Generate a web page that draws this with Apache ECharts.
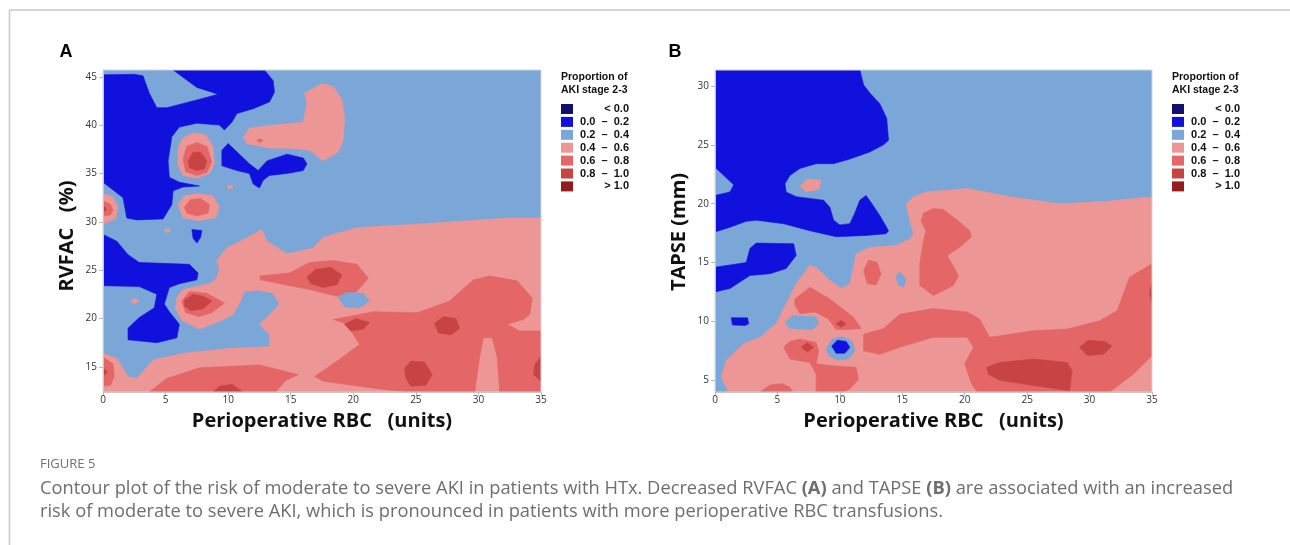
<!DOCTYPE html>
<html>
<head>
<meta charset="utf-8">
<script src="https://cdn.jsdelivr.net/npm/echarts@6/dist/echarts.min.js"></script>
<style>
html, body { margin: 0; padding: 0; background: #fff; }
#main { width: 1290px; height: 545px; }
</style>
</head>
<body>
<div id="main"></div>
<script>
// contour bands: 1 = 0.0-0.2, 2 = 0.2-0.4, 3 = 0.4-0.6, 4 = 0.6-0.8, 5 = 0.8-1.0
// each band region is a closed outline in data units: [Perioperative RBC (units), RVFAC % / TAPSE mm]
var legendLabels = ['< 0.0', '0.0  \u2013  0.2', '0.2  \u2013  0.4', '0.4  \u2013  0.6',
  '0.6  \u2013  0.8', '0.8  \u2013  1.0', '> 1.0'];
var bandColors = ['#10106e', '#1111dd', '#7ba6d8', '#ec9696', '#e46666', '#c84444', '#951c1c'];

var rbcRange = [0, 35];
var rvfacRange = [12.4, 45.7];
var tapseRange = [4.0, 31.36];

// ---- panel A: RVFAC ----
var aBase = [[0, 12.4], [35, 12.4], [35, 45.7], [0, 45.7]];
var aPinkMain = [[35, 30.4], [32.3, 30.4], [25.6, 29.8], [20.3, 29.4], [17.6, 28.4], [16.8, 27.3], [14.7, 26.7],
  [13.1, 28], [12.7, 29.2], [12, 28.7], [9.9, 27.3], [9.1, 26], [9.3, 25], [9.0, 24], [8.5, 23.6], [7.7, 23.4],
  [6.4, 23], [5.9, 22.2], [5.8, 21], [6.3, 19.8], [7.7, 18.9], [9.3, 19.7], [10.4, 20.4], [11.0, 21.8],
  [11.3, 22.8], [12.5, 22.9], [13.6, 22.6], [14.1, 21.5], [13.3, 20.4], [12.5, 19.4], [13.3, 18.3], [13.3, 17.1],
  [9.9, 16.9], [6.4, 16.4], [4, 15.7], [2.7, 13.8], [2, 14], [1.1, 15.9], [0, 16.4], [0, 12.4], [35, 12.4]];
var aPinkEdge = [[0, 32.9], [0.8, 32.6], [1.2, 31.5], [1.0, 30.3], [0, 29.8]];
var aPinkSpot1 = [[6, 37.5], [6.3, 38.6], [7.2, 39.2], [8.2, 39], [8.8, 37.8], [8.9, 36], [8.5, 35], [7.5, 34.5],
  [6.4, 34.8], [6, 35.8]];
var aPinkSpot2 = [[6, 31.8], [6.5, 32.7], [7.6, 32.9], [8.8, 32.7], [9.3, 31.5], [9, 30.4], [7.6, 30.1], [6.4, 30.4]];
var aPinkUpper = [[11.2, 38.7], [11.7, 39.7], [13.6, 40], [16, 40.3], [16.3, 42.3], [16.1, 43.3], [17.5, 44.3],
  [18.4, 44], [19.1, 42.6], [19.3, 40.8], [19.2, 38.4], [18.8, 37.2], [17.6, 36.3], [16.5, 37.4], [14.9, 37.6],
  [13.3, 37.6], [11.5, 38.1]];
var aPinkDot1 = [[9.9, 33.7], [10.3, 33.8], [10.4, 33.5], [10.0, 33.4]];
var aPinkDot2 = [[4.9, 29.2], [5.3, 29.3], [5.4, 29.0], [5.0, 28.9]];
var aPinkDot3 = [[2.2, 21.8], [2.5, 22.1], [2.9, 21.8], [2.5, 21.5]];
var aMidEdgeTop = [[0, 32.2], [0.6, 31.8], [0.8, 31.2], [0.6, 30.7], [0, 30.6]];
var aMidSpot1 = [[6.4, 36.5], [6.7, 37.8], [7.5, 38.2], [8.3, 37.8], [8.7, 36.2], [8.3, 35.1], [7.5, 34.8], [6.6, 35.2]];
var aMidSpot2 = [[6.5, 31.5], [7.0, 32.3], [7.8, 32.4], [8.5, 31.8], [8.4, 30.9], [7.5, 30.6], [6.7, 30.9]];
var aMidSpot3 = [[6.3, 21.8], [6.9, 22.8], [8.3, 22.6], [9.7, 21.6], [8.7, 20.6], [7.7, 20.2], [6.6, 20.6]];
var aMidBand = [[12.5, 24.4], [14.9, 24.7], [16.5, 25.8], [18.4, 26], [20.3, 25.6], [21.2, 24.2], [20.3, 22.8],
  [18.7, 22.3], [16.5, 23], [14.9, 23.4], [12.6, 24.0]];
var aMidEdgeLow = [[0, 16.0], [0.8, 15.3], [0.9, 14], [0.6, 13.1], [0, 13]];
var aMidLowLeft = [[3.7, 12.4], [5.1, 13.8], [7.7, 14.9], [12.5, 15.2], [15.6, 14.2], [14.6, 13.6], [13.8, 12.4]];
var aMidLowRight = [[18.4, 19.9], [21.6, 20.7], [25.1, 20.6], [27.7, 21.8], [29.6, 24], [30.9, 24.4], [33.1, 23.9],
  [34.3, 22.1], [34.1, 20.4], [33.6, 19.9], [32.3, 19.4], [33.3, 18.7], [35, 18.7], [35, 12.4], [31.7, 12.4],
  [31.5, 16], [31.1, 18], [30.4, 18], [30.1, 16], [29.7, 12.4], [24.3, 12.4], [21.6, 12.8], [17.6, 13.5],
  [16.9, 14], [18.7, 15.6], [20.5, 17.3], [19.5, 19.4]];
var aMidDot = [[12.3, 38.4], [12.5, 38.6], [12.8, 38.4], [12.5, 38.2]];
var aDarkSpot1 = [[6.8, 36.3], [7.2, 37.2], [7.8, 37.2], [8.3, 36.3], [8.1, 35.5], [7.5, 35.3], [6.9, 35.6]];
var aDarkSpot3 = [[6.5, 21.9], [7.2, 22.5], [8.0, 22.3], [8.7, 21.8], [8.0, 21.0], [7.0, 20.8], [6.5, 21.3]];
var aDarkBand = [[16.3, 24.3], [17.0, 25.1], [18.2, 25.3], [19.1, 24.5], [18.7, 23.5], [17.6, 23.2], [16.6, 23.6]];
var aDarkEdgeLow = [[0, 14.9], [0.35, 14.5], [0, 14.0]];
var aDarkEdgeTop = [[0, 31.7], [0.3, 31.3], [0, 30.9]];
var aDarkBottom = [[8.8, 12.4], [9.3, 13], [10.3, 13.2], [11.2, 12.4]];
var aDarkR1 = [[19.3, 19.4], [20.2, 20], [21.3, 19.6], [20.8, 18.9], [19.8, 18.7]];
var aDarkR2 = [[26.5, 19.5], [27.2, 20.2], [28.2, 20.0], [28.5, 19], [27.8, 18.3], [26.8, 18.5]];
var aDarkR3 = [[24.1, 14.8], [24.6, 15.6], [25.7, 15.5], [26.3, 14.2], [25.8, 13.1], [24.6, 13.0], [24.2, 13.8]];
var aDarkR4 = [[35, 16.1], [34.5, 15.2], [34.4, 14.2], [35, 13.5]];
var aLightHole = [[18.8, 22.2], [19.5, 22.7], [20.8, 22.6], [21.3, 21.8], [20.5, 21.1], [19.3, 21.2]];
var aBlueUpper = [[0, 45.2], [2.5, 45.25], [3.2, 45.1], [3.7, 43.3], [4.3, 41.8], [5.1, 41.8], [7.2, 42.5],
  [9.2, 43.2], [7.5, 43.9], [5.6, 45.7], [12.9, 45.7], [13.6, 44.6], [13.7, 43.4], [13.3, 42.4], [12, 41.7],
  [10.7, 41.2], [10.3, 40.3], [9.7, 39.5], [9.3, 40], [7.5, 40.2], [6.1, 39.8], [5.5, 38.8], [5.2, 36.3],
  [5.3, 34.6], [6.1, 34.1], [7.7, 33.7], [6.4, 33.6], [5.6, 33.2], [5.5, 31.8], [4.8, 30.3], [2.7, 30.2],
  [1.9, 30.4], [1.6, 32.5], [0, 34.1]];
var aBlueMid = [[10, 38.1], [11.7, 36], [12.4, 35.3], [13.1, 36.3], [14.7, 37], [16, 36.6], [16.3, 36], [16, 35.3],
  [14.7, 35], [13.3, 34.8], [12.8, 34.3], [12.5, 33.5], [12, 33.9], [11.7, 35], [10.7, 35.3], [9.5, 35.8], [9.5, 37.4]];
var aBlueDot = [[7.1, 29.2], [7.9, 29.1], [7.8, 28.4], [7.5, 27.8], [7.2, 28.3]];
var aBlueLower = [[0, 28.7], [1.1, 28], [2, 26.6], [2.9, 25.8], [6.9, 25.6], [7.6, 24.7], [7.5, 24], [6.1, 23.6],
  [5.3, 23.2], [4.9, 21.5], [5.3, 20.7], [6.1, 19.4], [5.9, 18], [4.3, 17.5], [2, 17.8], [2, 19], [2.9, 20.1],
  [4.1, 21.1], [4.3, 22.5], [2.9, 23.3], [0, 23.4]];

var rvfacRegions = [
  { band: 2, pts: aBase },
  { band: 3, pts: aPinkMain }, { band: 3, pts: aPinkEdge }, { band: 3, pts: aPinkSpot1 },
  { band: 3, pts: aPinkSpot2 }, { band: 3, pts: aPinkUpper }, { band: 3, pts: aPinkDot1 },
  { band: 3, pts: aPinkDot2 }, { band: 3, pts: aPinkDot3 },
  { band: 4, pts: aMidEdgeTop }, { band: 4, pts: aMidSpot1 }, { band: 4, pts: aMidSpot2 },
  { band: 4, pts: aMidSpot3 }, { band: 4, pts: aMidBand }, { band: 4, pts: aMidEdgeLow },
  { band: 4, pts: aMidLowLeft }, { band: 4, pts: aMidLowRight }, { band: 4, pts: aMidDot },
  { band: 5, pts: aDarkSpot1 }, { band: 5, pts: aDarkSpot3 }, { band: 5, pts: aDarkBand },
  { band: 5, pts: aDarkEdgeLow }, { band: 5, pts: aDarkEdgeTop }, { band: 5, pts: aDarkBottom },
  { band: 5, pts: aDarkR1 }, { band: 5, pts: aDarkR2 }, { band: 5, pts: aDarkR3 }, { band: 5, pts: aDarkR4 },
  { band: 2, pts: aLightHole },
  { band: 1, pts: aBlueUpper }, { band: 1, pts: aBlueMid }, { band: 1, pts: aBlueDot }, { band: 1, pts: aBlueLower }
];

// ---- panel B: TAPSE ----
var bBase = [[0, 4.0], [35, 4.0], [35, 31.36], [0, 31.36]];
var bPinkMain = [[1.07, 4.0], [0.5, 5.25], [0.9, 6.7], [2.3, 8.1], [3.6, 8.65], [4.9, 9.8], [5.7, 11.5], [6.5, 13.2],
  [7.6, 14.75], [8.1, 14.6], [9.2, 13.5], [10.1, 12.8], [10.8, 13.2], [11.3, 15.75], [12.4, 16.3], [14.5, 16.45],
  [15.6, 17.0], [15.9, 17.45], [15.6, 18.6], [15.3, 20.0], [15.9, 20.6], [16.9, 21.0], [20.2, 21.3], [23.6, 20.6],
  [27.6, 20.0], [31.4, 20.2], [35, 20.6], [35, 4.0]];
var bPinkDot = [[6.8, 21.5], [7.4, 22.1], [8.5, 22.0], [8.3, 21.2], [7.3, 21.0]];
var bMidUpper = [[16.7, 19.2], [17.5, 19.6], [18.3, 19.5], [19.35, 18.65], [20.4, 17.7], [20.55, 17.2], [19.6, 16.3],
  [18.6, 15.6], [19.5, 13.9], [19.1, 13.05], [17.5, 12.2], [16.4, 13.05], [16.4, 14.9], [16.7, 16.9], [16.9, 17.7],
  [16.5, 18.5]];
var bMidSmall = [[11.9, 14.3], [12.3, 15.2], [13.0, 15.0], [13.3, 14.0], [12.9, 13.1], [12.2, 13.2]];
var bMidCentre = [[6.4, 11.9], [7.6, 12.9], [9.2, 11.9], [11.1, 10.35], [11.7, 9.4], [10.8, 9.3], [9.7, 9.3],
  [9.1, 10.2], [8.0, 10.8], [6.8, 10.65], [6.4, 11.4]];
var bMidLowLeft = [[5.5, 7.8], [6.0, 8.3], [6.8, 8.5], [8.1, 8.2], [8.3, 7.5], [8.1, 6.4], [9.7, 6.2], [11.3, 6.1],
  [11.5, 5.1], [10.8, 4.25], [10.3, 4.0], [8.1, 4.0], [8.1, 5.5], [7.6, 6.5], [6.0, 6.8]];
var bMidFloor = [[3.6, 4.0], [4.4, 4.6], [5.4, 4.7], [6.0, 4.4], [6.2, 4.0]];
var bMidLowRight = [[11.9, 8.9], [13.5, 9.4], [14.8, 10.6], [17.5, 11.1], [20.2, 10.8], [21.2, 10.2], [22.0, 8.65],
  [25.5, 9.2], [28.2, 9.35], [30.8, 10.05], [32.2, 10.9], [33.2, 13.75], [35, 14.9], [35, 7.1], [33.5, 5.5],
  [31.6, 4.0], [21.0, 4.0], [20.55, 4.7], [20.0, 6.4], [20.7, 7.8], [20.2, 8.65], [17.5, 8.65], [15.1, 7.9],
  [13.2, 7.2], [11.9, 7.5]];
var bDarkCentre = [[9.7, 9.8], [10.1, 10.1], [10.5, 9.8], [10.1, 9.5]];
var bDarkLeft = [[6.9, 7.8], [7.4, 8.2], [7.9, 7.8], [7.4, 7.4]];
var bDarkFloor = [[21.75, 6.1], [22.8, 6.5], [25.5, 6.8], [28.2, 6.5], [28.6, 5.8], [28.4, 4.1], [25.5, 4.55],
  [22.8, 5.0], [21.9, 5.5]];
var bDarkRight = [[29.2, 7.8], [29.9, 8.4], [31.2, 8.3], [31.8, 7.9], [31.1, 7.2], [29.8, 7.1]];
var bDarkEdge = [[35, 13.3], [34.8, 12.4], [35, 11.5]];
var bLightSmall = [[14.5, 13.8], [14.8, 14.2], [15.3, 13.6], [15.1, 12.9], [14.7, 13.1]];
var bLightBlob = [[5.6, 9.9], [6.2, 10.5], [8.1, 10.4], [8.3, 9.8], [7.8, 9.3], [6.0, 9.4]];
var bLightRing = [[8.9, 7.7], [9.4, 8.5], [10.2, 8.7], [11.0, 8.3], [11.2, 7.5], [10.7, 6.8], [9.8, 6.7], [9.1, 7.1]];
var bBlueUpper = [[0, 31.36], [11.6, 31.36], [11.9, 30.1], [12.4, 29.4], [13.2, 28.5], [13.75, 27.25], [13.9, 25.4],
  [13.5, 25.0], [12.4, 24.4], [10.8, 23.8], [9.5, 23.4], [8.1, 23.4], [6.8, 23.0], [6.0, 22.4], [5.6, 21.7],
  [5.7, 21.0], [6.5, 20.6], [8.7, 20.3], [9.2, 19.7], [9.5, 18.6], [10.0, 18.2], [10.8, 18.3], [11.2, 19.2],
  [11.6, 20.3], [12.1, 20.7], [12.5, 20.1], [13.2, 19.0], [13.9, 17.7], [13.7, 17.45], [12.1, 17.3], [9.7, 17.2],
  [7.6, 17.7], [5.5, 18.3], [3.3, 18.6], [2.5, 18.5], [1.2, 18.0], [0, 17.6], [0, 20.7], [1.2, 21.0],
  [1.5, 21.6], [0, 23.1]];
var bBlueLower = [[0, 14.6], [2.5, 15.0], [2.8, 16.2], [3.3, 16.65], [6.3, 16.6], [6.5, 15.6], [5.7, 14.5],
  [4.4, 14.05], [2.8, 13.9], [1.2, 12.8], [0, 12.5]];
var bBlueSmall = [[1.3, 10.3], [2.6, 10.3], [2.7, 9.8], [2.4, 9.65], [1.4, 9.7]];
var bBlueDot = [[9.35, 7.9], [9.8, 8.4], [10.5, 8.3], [10.8, 7.8], [10.4, 7.3], [9.7, 7.3]];

var tapseRegions = [
  { band: 2, pts: bBase },
  { band: 3, pts: bPinkMain }, { band: 3, pts: bPinkDot },
  { band: 4, pts: bMidUpper }, { band: 4, pts: bMidSmall }, { band: 4, pts: bMidCentre },
  { band: 4, pts: bMidLowLeft }, { band: 4, pts: bMidFloor }, { band: 4, pts: bMidLowRight },
  { band: 5, pts: bDarkCentre }, { band: 5, pts: bDarkLeft }, { band: 5, pts: bDarkFloor },
  { band: 5, pts: bDarkRight }, { band: 5, pts: bDarkEdge },
  { band: 2, pts: bLightSmall }, { band: 2, pts: bLightBlob }, { band: 2, pts: bLightRing },
  { band: 1, pts: bBlueUpper }, { band: 1, pts: bBlueLower }, { band: 1, pts: bBlueSmall }, { band: 1, pts: bBlueDot }
];

function contourSeries(regions, gi) {
  return {
    type: 'custom', xAxisIndex: gi, yAxisIndex: gi, clip: true, silent: true,
    data: regions.map(function (r, i) { return [r.pts[0][0], r.pts[0][1], i]; }),
    encode: { x: 0, y: 1 },
    renderItem: function (params, api) {
      var r = regions[api.value(2)];
      var pts = r.pts.map(function (p) { return api.coord(p); });
      return {
        type: 'polygon', shape: { points: pts },
        style: { fill: bandColors[r.band], stroke: bandColors[r.band], lineWidth: 0.6 }
      };
    }
  };
}

function legendGraphics(x, rightX) {
  var els = [
    { type: 'text', left: x, top: 71, z: 50,
      style: { text: 'Proportion of\nAKI stage 2-3', font: 'bold 10.5px "Liberation Sans", Arial', fill: '#111', lineHeight: 13 } }
  ];
  legendLabels.forEach(function (lab, i) {
    var y = 104 + i * 12.9;
    els.push({ type: 'rect', z: 50, shape: { x: x, y: y, width: 12, height: 10 },
      style: { fill: bandColors[i] } });
    els.push({ type: 'text', z: 50, x: rightX, y: y + 5,
      style: { text: lab, font: 'bold 11px "Liberation Sans", Arial', fill: '#111', align: 'right', verticalAlign: 'middle' } });
  });
  return els;
}

var chart = echarts.init(document.getElementById('main'));

var tickFont = { fontSize: 10, color: '#333', fontFamily: 'Open Sans' };
var nameFont = { fontSize: 20, fontWeight: 'bold', color: '#111', fontFamily: 'Open Sans' };

function valueX(gi) {
  return {
    gridIndex: gi, type: 'value', min: rbcRange[0], max: rbcRange[1], interval: 5, z: 10,
    name: 'Perioperative RBC   (units)', nameLocation: 'middle', nameGap: 19, nameTextStyle: nameFont,
    axisLine: { show: true, lineStyle: { color: '#c8c8c8', width: 1 } },
    axisTick: { show: true, length: 4, lineStyle: { color: '#bbb' } },
    axisLabel: Object.assign({ margin: 3 }, tickFont),
    splitLine: { show: false }
  };
}
function valueY(gi, range, name, shift) {
  return {
    gridIndex: gi, type: 'value', min: range[0], max: range[1], minInterval: 5, maxInterval: 5, z: 10,
    name: name, nameLocation: 'middle', nameGap: 26,
    nameTextStyle: Object.assign({ padding: [0, shift, 0, 0] }, nameFont),
    axisLine: { show: true, lineStyle: { color: '#c8c8c8', width: 1 } },
    axisTick: { show: true, length: 4, lineStyle: { color: '#bbb' } },
    axisLabel: Object.assign({ margin: 6, showMinLabel: false, showMaxLabel: false }, tickFont),
    splitLine: { show: false }
  };
}

var captionFont = '18.3px "Open Sans"';
var graphics = [
  { type: 'line', z: 60, shape: { x1: 9.5, y1: 10, x2: 1290, y2: 10 }, style: { stroke: '#c8c8c8', lineWidth: 1.5 } },
  { type: 'line', z: 60, shape: { x1: 9.5, y1: 10, x2: 9.5, y2: 545 }, style: { stroke: '#c8c8c8', lineWidth: 1.5 } },
  { type: 'text', z: 60, x: 66, y: 52, style: { text: 'A', font: 'bold 18px "Liberation Sans", Arial', fill: '#000', align: 'center', verticalAlign: 'middle' } },
  { type: 'text', z: 60, x: 675, y: 52, style: { text: 'B', font: 'bold 18px "Liberation Sans", Arial', fill: '#000', align: 'center', verticalAlign: 'middle' } },
  { type: 'text', z: 60, x: 40, y: 464, style: { text: 'FIGURE 5', font: '500 13px "Open Sans"', fill: '#707070', verticalAlign: 'middle' } },
  { type: 'text', z: 60, x: 40, y: 489, style: {
      text: 'Contour plot of the risk of moderate to severe AKI in patients with HTx. Decreased RVFAC {b|(A)} and TAPSE {b|(B)} are associated with an increased',
      font: captionFont, fill: '#6e6e6e', verticalAlign: 'middle',
      rich: { b: { font: 'bold ' + captionFont, fill: '#6e6e6e' } } } },
  { type: 'text', z: 60, x: 40, y: 512, style: {
      text: 'risk of moderate to severe AKI, which is pronounced in patients with more perioperative RBC transfusions.',
      font: captionFont, fill: '#6e6e6e', verticalAlign: 'middle' } }
].concat(legendGraphics(561, 629)).concat(legendGraphics(1172, 1240));

chart.setOption({
  animation: false,
  backgroundColor: '#fff',
  grid: [
    { left: 103, top: 70, width: 438, height: 322, show: true, z: 10, backgroundColor: 'transparent', borderColor: '#d4d4d4', borderWidth: 1 },
    { left: 715, top: 70, width: 437, height: 322, show: true, z: 10, backgroundColor: 'transparent', borderColor: '#d4d4d4', borderWidth: 1 }
  ],
  xAxis: [valueX(0), valueX(1)],
  yAxis: [valueY(0, rvfacRange, 'RVFAC   (%)', 10), valueY(1, tapseRange, 'TAPSE (mm)', 2)],
  series: [contourSeries(rvfacRegions, 0), contourSeries(tapseRegions, 1)],
  graphic: graphics
});
</script>
</body>
</html>
